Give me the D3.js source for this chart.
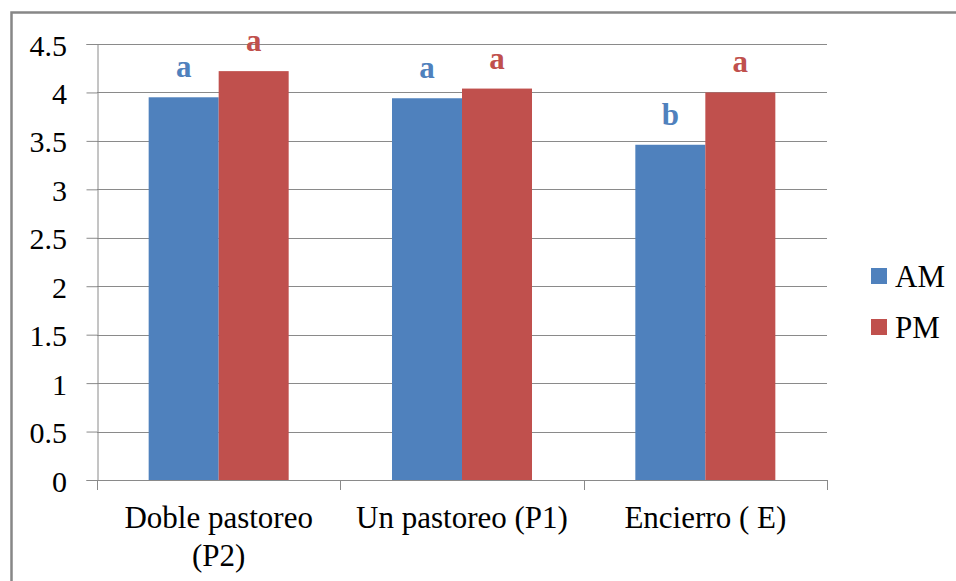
<!DOCTYPE html>
<html>
<head>
<meta charset="utf-8">
<script src="https://cdn.jsdelivr.net/npm/d3@7/dist/d3.min.js"></script>
<style>
  html, body { margin: 0; padding: 0; background: #fff; }
  svg { display: block; }
</style>
</head>
<body>
<svg id="chart" width="956" height="581"></svg>
<script>
// Grazing treatments and AM / PM measurements
const categories = [["Doble pastoreo", "(P2)"], ["Un pastoreo (P1)"], ["Encierro ( E)"]];
const seriesNames = ["AM", "PM"];
const amValues = [3.95, 3.94, 3.46];
const pmValues = [4.22, 4.04, 4.00];
const amLetters = ["a", "a", "b"];
const pmLetters = ["a", "a", "a"];
const yTicks = [0, 0.5, 1, 1.5, 2, 2.5, 3, 3.5, 4, 4.5];
const colors = ["#4F81BD", "#C0504D"];

const FONT = "'Liberation Serif'";

const svg = d3.select("#chart");
const plot = { left: 97, right: 827, top: 44, bottom: 480 };
const catKeys = categories.map((c, i) => i);

const x0 = d3.scaleBand().domain(catKeys).range([plot.left, plot.right]).padding(0);
const x1 = d3.scaleBand().domain(seriesNames).range([0, x0.bandwidth()])
  .paddingInner(0).paddingOuter(0.738);
const y = d3.scaleLinear().domain([0, 4.5]).range([plot.bottom, plot.top]);
const color = d3.scaleOrdinal().domain(seriesNames).range(colors);

// Serif text helper
function serif(sel, size) {
  return sel.style("font-family", FONT).style("font-size", size + "px");
}
// Place start-anchored text so it is centred (f = 0.5) or right-aligned (f = 1) on x
function alignAt(sel, xOf, f) {
  sel.each(function (d, i) {
    const w = this.getComputedTextLength();
    d3.select(this).attr("x", xOf(d, i) - w * f);
  });
  return sel;
}

// Outer frame (only the top and left edges fall inside the page)
svg.append("rect")
  .attr("x", 11.5).attr("y", 12.5)
  .attr("width", 1200).attr("height", 1200)
  .attr("fill", "none").attr("stroke", "#878787").attr("stroke-width", 2.5);

// Horizontal gridlines
svg.append("g").selectAll("line").data(yTicks.filter(d => d > 0)).join("line")
  .attr("x1", plot.left).attr("x2", plot.right)
  .attr("y1", d => Math.round(y(d)) + 0.5).attr("y2", d => Math.round(y(d)) + 0.5)
  .attr("stroke", "#8a8a8a").attr("stroke-width", 1);

// Y axis
const yAxis = svg.append("g")
  .attr("transform", `translate(${plot.left + 0.5},0)`)
  .call(d3.axisLeft(y).tickValues(yTicks).tickFormat(d3.format("")).tickSize(11).tickPadding(19));
yAxis.attr("font-family", null).attr("font-size", null).attr("text-anchor", null);
yAxis.select(".domain").attr("stroke", "#8a8a8a");
yAxis.selectAll(".tick line").attr("stroke", "#8a8a8a");
const yLabels = serif(yAxis.selectAll(".tick text"), 30)
  .style("text-anchor", "start").attr("fill", "#000").attr("dy", null)
  .attr("y", 11);
alignAt(yLabels, () => -30.5, 1);

// Bars
const data = catKeys.map(i => ({ i, values: [amValues[i], pmValues[i]], letters: [amLetters[i], pmLetters[i]] }));
const groups = svg.append("g").selectAll("g").data(data).join("g")
  .attr("transform", d => `translate(${x0(d.i)},0)`);

groups.selectAll("rect")
  .data(d => seriesNames.map((s, k) => ({ s, v: d.values[k] })))
  .join("rect")
  .attr("x", d => x1(d.s))
  .attr("width", x1.bandwidth())
  .attr("y", d => y(d.v))
  .attr("height", d => y(0) - y(d.v))
  .attr("fill", d => color(d.s));

// Significance letters above the bars
const sig = serif(groups.selectAll("text.sig")
  .data(d => seriesNames.map((s, k) => ({ s, v: d.values[k], l: d.letters[k] })))
  .join("text")
  .attr("class", "sig")
  .attr("y", d => y(d.v) - 20), 31)
  .style("font-weight", "bold")
  .style("fill", d => color(d.s))
  .text(d => d.l);
alignAt(sig, d => x1(d.s) + x1.bandwidth() / 2, 0.5);

// X axis line and category boundary ticks
const xg = svg.append("g");
xg.append("line")
  .attr("x1", plot.left).attr("x2", plot.right)
  .attr("y1", plot.bottom + 0.5).attr("y2", plot.bottom + 0.5)
  .attr("stroke", "#8a8a8a");
const bounds = catKeys.map(i => x0(i)).concat([x0(catKeys[catKeys.length - 1]) + x0.bandwidth()]);
xg.selectAll("line.tk").data(bounds).join("line")
  .attr("class", "tk")
  .attr("x1", d => Math.round(d) + 0.5).attr("x2", d => Math.round(d) + 0.5)
  .attr("y1", plot.bottom).attr("y2", plot.bottom + 10)
  .attr("stroke", "#8a8a8a");

// Category labels (one text per line, wrapped labels use two)
const catLines = data.flatMap(d => categories[d.i].map((line, k) => ({ line, k, i: d.i })));
const catText = serif(xg.selectAll("text.cat").data(catLines).join("text")
  .attr("class", "cat")
  .attr("y", d => 528 + d.k * 38), 31)
  .style("fill", "#000")
  .text(d => d.line);
alignAt(catText, d => x0(d.i) + x0.bandwidth() / 2, 0.5);

// Legend
const legend = svg.append("g").selectAll("g").data(seriesNames).join("g")
  .attr("transform", (d, k) => `translate(871,${268 + k * 51})`);
legend.append("rect").attr("width", 16).attr("height", 16).attr("fill", d => color(d));
serif(legend.append("text").attr("x", 24).attr("y", 18.5), 31)
  .style("fill", "#000")
  .text(d => d);
</script>
</body>
</html>
